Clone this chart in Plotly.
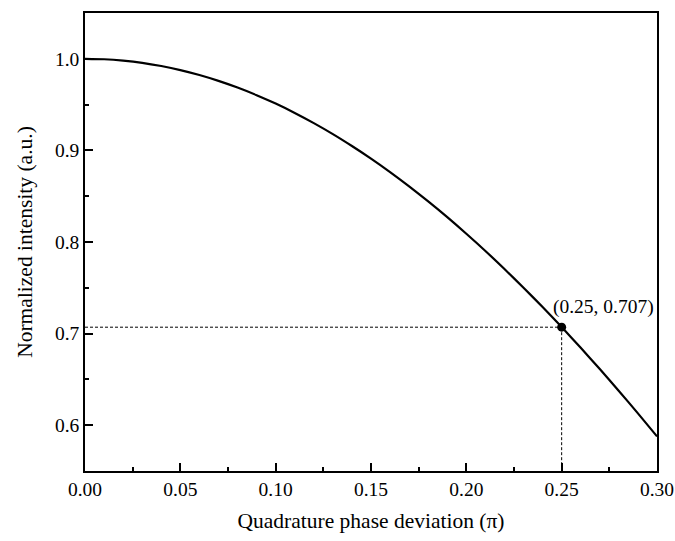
import plotly.graph_objects as go

# Data
phase_dev = [0.00, 0.01, 0.02, 0.03, 0.04, 0.05, 0.06, 0.07, 0.08, 0.09,
             0.10, 0.11, 0.12, 0.13, 0.14, 0.15, 0.16, 0.17, 0.18, 0.19,
             0.20, 0.21, 0.22, 0.23, 0.24, 0.25, 0.26, 0.27, 0.28, 0.29, 0.30]
intensity = [1.0000, 0.9995, 0.9980, 0.9956, 0.9921, 0.9877, 0.9823, 0.9759, 0.9686, 0.9603,
             0.9511, 0.9409, 0.9298, 0.9178, 0.9048, 0.8910, 0.8763, 0.8607, 0.8443, 0.8271,
             0.8090, 0.7902, 0.7705, 0.7501, 0.7290, 0.7071, 0.6845, 0.6613, 0.6374, 0.6129,
             0.5878]
mark_x = 0.25
mark_y = 0.707
x_ticks = [0.00, 0.05, 0.10, 0.15, 0.20, 0.25, 0.30]
y_ticks = [0.6, 0.7, 0.8, 0.9, 1.0]
x_range = [0.0, 0.30]
y_range = [0.55, 1.05]

font_family = "Liberation Serif, Times New Roman, serif"

fig = go.Figure()
fig.add_trace(go.Scatter(x=phase_dev, y=intensity, mode="lines",
                         line=dict(color="black", width=2.2, shape="spline", smoothing=0.6),
                         showlegend=False, hoverinfo="skip"))
# dashed guides
fig.add_trace(go.Scatter(x=[x_range[0], mark_x], y=[mark_y, mark_y], mode="lines",
                         line=dict(color="black", width=1, dash="3px,2px"),
                         showlegend=False, hoverinfo="skip"))
fig.add_trace(go.Scatter(x=[mark_x, mark_x], y=[mark_y, y_range[0]], mode="lines",
                         line=dict(color="black", width=1, dash="3px,2px"),
                         showlegend=False, hoverinfo="skip"))
fig.add_trace(go.Scatter(x=[mark_x], y=[mark_y], mode="markers",
                         marker=dict(color="black", size=9),
                         showlegend=False))
fig.add_annotation(x=mark_x, y=mark_y, text=f"({mark_x:.2f}, {mark_y:.3f})",
                   showarrow=False, xanchor="left", yanchor="bottom",
                   xshift=-11, yshift=7,
                   font=dict(family=font_family, size=19.5, color="black"))

axis_common = dict(showline=True, linecolor="black", linewidth=1.5, mirror=True,
                   ticks="inside", ticklen=8, tickwidth=1.5, tickcolor="black",
                   showgrid=False, zeroline=False, automargin=False,
                   tickfont=dict(family=font_family, size=19.5, color="black"))
fig.update_xaxes(range=x_range, tickvals=x_ticks,
                 ticktext=[f"{v:.2f}" for v in x_ticks],
                 minor=dict(ticks="inside", ticklen=4, tickwidth=1.5, tickcolor="black",
                            dtick=0.025, showgrid=False),
                 title=dict(text="Quadrature phase deviation (π)",
                            font=dict(family=font_family, size=21.5, color="black"),
                            standoff=14),
                 **axis_common)
fig.update_yaxes(range=y_range, tickvals=y_ticks,
                 ticktext=[f"{v:.1f}" for v in y_ticks],
                 minor=dict(ticks="inside", ticklen=4, tickwidth=1.5, tickcolor="black",
                            dtick=0.05, tick0=0.55, showgrid=False),
                 title=dict(text="Normalized intensity (a.u.)",
                            font=dict(family=font_family, size=21.5, color="black"),
                            standoff=16),
                 **axis_common)

fig.update_layout(width=675, height=541, margin=dict(l=85, r=18, t=13, b=70),
                  plot_bgcolor="white", paper_bgcolor="white",
                  font=dict(family=font_family, color="black"))

fig.write_html("out.html")
